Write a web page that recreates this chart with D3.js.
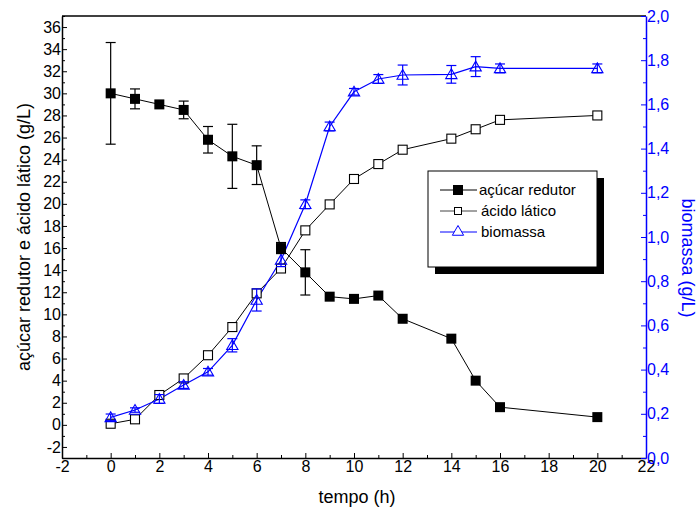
<!DOCTYPE html>
<html><head><meta charset="utf-8">
<script src="https://cdn.jsdelivr.net/npm/d3@7"></script>
<style>body{margin:0;background:#fff}svg{display:block}text{font-family:"Liberation Sans",Arial,sans-serif}</style>
</head><body><svg id="c" width="699" height="514"></svg>
<script>
const tempo = [0,1,2,3,4,5,6,7,8,9,10,11,12,14,15,16,20];
const acucar = [30.0,29.5,29.0,28.5,25.8,24.3,23.5,16.0,13.8,11.6,11.4,11.7,9.6,7.8,4.0,1.6,0.7];
const acucarErr = [4.6,0.9,0,0.8,1.2,2.9,1.75,0.5,2.05,0,0,0,0,0,0,0,0];
const lactico = [0.1,0.5,2.7,4.2,6.3,8.85,11.9,14.15,17.6,19.95,22.25,23.6,24.9,25.9,26.75,27.6,28.0];
const biomassa = [0.184,0.217,0.267,0.33,0.39,0.51,0.715,0.896,1.148,1.5,1.657,1.715,1.733,1.736,1.771,1.763,1.763];
const biomassaErr = [0.015,0.01,0.02,0.015,0.015,0.03,0.05,0.03,0.02,0.02,0.015,0.02,0.045,0.04,0.045,0.02,0.02];
const xTicks = [-2,0,2,4,6,8,10,12,14,16,18,20,22];
const yLeftTicks = [-2,0,2,4,6,8,10,12,14,16,18,20,22,24,26,28,30,32,34,36];
const yRightTicks = [0,0.2,0.4,0.6,0.8,1.0,1.2,1.4,1.6,1.8,2.0];
const legendLabels = ["açúcar redutor","ácido lático","biomassa"];

const blue = "#0000ff";
const L=62,R=646,T=16,B=458;
const svg = d3.select("#c");
const x = d3.scaleLinear().domain([-2,22]).range([L,R]);
const yL = d3.scaleLinear().domain([-3,37]).range([B,T]);
const yR = d3.scaleLinear().domain([0,2]).range([B,T]);
const intFmt = d => String(d);

// frame top
svg.append("line").attr("x1",L).attr("x2",R).attr("y1",T).attr("y2",T).attr("stroke","#000").attr("stroke-width",1.3);

function styleAxis(g,color){
  g.select(".domain").attr("stroke",color).attr("stroke-width",1.5);
  g.selectAll(".tick line").attr("stroke",color);
  g.selectAll(".tick text").attr("fill",color).style("font-size","16px").style("font-family","'Liberation Sans',Arial,sans-serif");
}
const xMinor = d3.range(-1,22,2);
svg.append("g").attr("transform",`translate(0,${B})`)
  .call(d3.axisBottom(x).tickValues(xMinor).tickSize(-3).tickFormat("")).call(g=>g.select(".domain").remove());
const gx = svg.append("g").attr("transform",`translate(0,${B})`)
  .call(d3.axisBottom(x).tickValues(xTicks).tickSizeInner(-5).tickSizeOuter(0).tickPadding(3).tickFormat(intFmt));
styleAxis(gx,"#000");

const yMinor = d3.range(-3,38,2);
svg.append("g").attr("transform",`translate(${L},0)`)
  .call(d3.axisLeft(yL).tickValues(yMinor).tickSize(-3).tickFormat("")).call(g=>g.select(".domain").remove());
const gyl = svg.append("g").attr("transform",`translate(${L},0)`)
  .call(d3.axisLeft(yL).tickValues(yLeftTicks).tickSizeInner(-5).tickSizeOuter(0).tickPadding(1).tickFormat(intFmt));
styleAxis(gyl,"#000");
gyl.selectAll(".tick text").attr("x",-1);

const rMinor = d3.range(0.1,2,0.2);
svg.append("g").attr("transform",`translate(${R},0)`)
  .call(d3.axisRight(yR).tickValues(rMinor).tickSize(-3).tickFormat("")).call(g=>{g.select(".domain").remove();g.selectAll("line").attr("stroke",blue);});
const fmt = d => d.toFixed(1).replace(".",",");
const gyr = svg.append("g").attr("transform",`translate(${R},0)`)
  .call(d3.axisRight(yR).tickValues(yRightTicks).tickSizeInner(-5).tickSizeOuter(0).tickPadding(1).tickFormat(fmt));
styleAxis(gyr,blue);
gyr.selectAll(".tick text").attr("x",1);

// axis titles
svg.append("text").attr("transform",`translate(30,237) rotate(-90)`).attr("text-anchor","middle")
  .style("font-size","18px").text("açúcar redutor e ácido lático (g/L)");
svg.append("text").attr("transform",`translate(682,258) rotate(90)`).attr("text-anchor","middle")
  .style("font-size","18px").attr("fill",blue).text("biomassa (g/L)");
svg.append("text").attr("x",357).attr("y",503).attr("text-anchor","middle").style("font-size","18px").text("tempo (h)");

const line = (ys,sc)=>d3.line().x((d,i)=>x(tempo[i])).y((d,i)=>sc(ys[i]));
svg.append("path").datum(lactico).attr("d",line(lactico,yL)).attr("fill","none").attr("stroke","#000").attr("stroke-width",1);
svg.append("path").datum(acucar).attr("d",line(acucar,yL)).attr("fill","none").attr("stroke","#000").attr("stroke-width",1);
svg.append("path").datum(biomassa).attr("d",line(biomassa,yR)).attr("fill","none").attr("stroke",blue).attr("stroke-width",1.2);

function errBars(vals,errs,sc,color){
  const g = svg.append("g").attr("stroke",color).attr("stroke-width",1.2);
  vals.forEach((v,i)=>{
    if(!errs[i]) return;
    const cx=x(tempo[i]), y1=sc(v+errs[i]), y2=sc(v-errs[i]);
    g.append("line").attr("x1",cx).attr("x2",cx).attr("y1",y1).attr("y2",y2);
    g.append("line").attr("x1",cx-5).attr("x2",cx+5).attr("y1",y1).attr("y2",y1);
    g.append("line").attr("x1",cx-5).attr("x2",cx+5).attr("y1",y2).attr("y2",y2);
  });
}
const tri = d3.symbol().type(d3.symbolTriangle).size(55);
svg.append("g").selectAll("rect").data(lactico).join("rect")
  .attr("x",(d,i)=>x(tempo[i])-4.5).attr("y",d=>yL(d)-4.5).attr("width",9).attr("height",9)
  .attr("fill","#fff").attr("stroke","#000").attr("stroke-width",1.1);
errBars(biomassa,biomassaErr,yR,blue);
svg.append("g").selectAll("path").data(biomassa).join("path")
  .attr("d",tri).attr("transform",(d,i)=>`translate(${x(tempo[i])},${yR(d)+1})`)
  .attr("fill","none").attr("stroke",blue).attr("stroke-width",1.1);
errBars(acucar,acucarErr,yL,"#000");
svg.append("g").selectAll("rect").data(acucar).join("rect")
  .attr("x",(d,i)=>x(tempo[i])-5).attr("y",d=>yL(d)-5).attr("width",10).attr("height",10)
  .attr("fill","#000");

// legend
const lg = svg.append("g");
lg.append("rect").attr("x",435).attr("y",178).attr("width",169).attr("height",96).attr("fill","#000");
lg.append("rect").attr("x",428).attr("y",171).attr("width",169).attr("height",96).attr("fill","#fff").attr("stroke","#000").attr("stroke-width",1);
const rows=[190,211,232];
const colors=["#000","#444",blue];
rows.forEach((ry,i)=>{
  lg.append("line").attr("x1",440).attr("x2",477).attr("y1",ry).attr("y2",ry).attr("stroke",colors[i]).attr("stroke-width",1);
  if(i===0) lg.append("rect").attr("x",453).attr("y",ry-5).attr("width",10).attr("height",10).attr("fill","#000");
  if(i===1) lg.append("rect").attr("x",454.5).attr("y",ry-3.5).attr("width",7).attr("height",7).attr("fill","#fff").attr("stroke","#000");
  if(i===2) lg.append("path").attr("d",tri).attr("transform",`translate(458,${ry})`).attr("fill","#fff").attr("stroke",blue);
  lg.append("text").attr("x",i===0?479:481).attr("y",ry+5).style("font-size","15px").text(legendLabels[i]);
});
</script></body></html>
